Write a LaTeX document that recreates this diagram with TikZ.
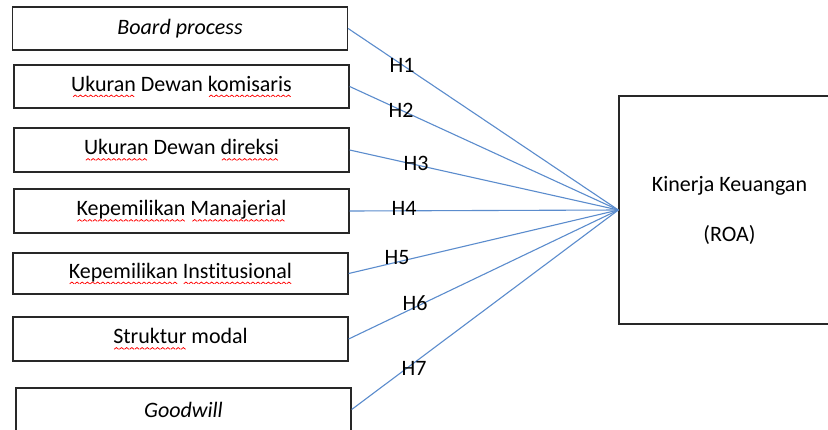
\documentclass[tikz,border=0pt]{standalone}
\usepackage{fontspec}
\setmainfont[Ligatures={NoCommon,NoRequired}]{Carlito}
\definecolor{edgeblue}{RGB}{91,140,205}
\definecolor{boxline}{RGB}{40,40,40}
\newsavebox\wavebox
\newsavebox\wordbox
\AtBeginDocument{\sbox\wavebox{\pgfpicture\pgfpathmoveto{\pgfpoint{0pt}{0pt}}\pgfpathlineto{\pgfpoint{2.2pt}{1.7pt}}\pgfpathlineto{\pgfpoint{4.4pt}{0pt}}\pgfsetlinewidth{0.75pt}\pgfsetstrokecolor{red}\pgfusepath{stroke}\endpgfpicture}}
\newcommand\spell[1]{\sbox\wordbox{#1}\rlap{\lower6pt\hbox to \wd\wordbox{\cleaders\copy\wavebox\hfil}}\usebox\wordbox}
\tikzset{
  varbox/.style={draw=boxline, line width=1.3pt, minimum width=335pt, minimum height=43pt, inner sep=0pt, font=\fontsize{22}{26}\selectfont},
  bigbox/.style={draw=boxline, line width=1.3pt, minimum width=221pt, minimum height=228pt, inner sep=0pt, align=center, font=\fontsize{22}{50}\selectfont},
  hline/.style={draw=edgeblue, line width=1.1pt},
  hyp/.style={inner sep=0pt, font=\fontsize{22}{26}\selectfont}
}
\begin{document}
\begin{tikzpicture}[x=1pt,y=-1pt]
\useasboundingbox (0,0) rectangle (828,429);
\clip (0,0) rectangle (828,429);
\fill[white] (0,0) rectangle (828,429);
\node[varbox] (b1) at (180,28.5) {\textit{Board process}};
\node[varbox] (b2) at (181.5,86.5) {\spell{Ukuran} Dewan \spell{komisaris}};
\node[varbox, minimum height=44pt] (b3) at (181.5,150) {\spell{Ukuran} Dewan \spell{direksi}};
\node[varbox, minimum height=44pt] (b4) at (181.5,211) {\spell{Kepemilikan} \spell{Manajerial}};
\node[varbox, minimum height=41pt] (b5) at (180.5,273.5) {\spell{Kepemilikan} \spell{Institusional}};
\node[varbox, minimum height=44pt] (b6) at (180.5,339) {\spell{Struktur} modal};
\node[varbox] (b7) at (183.5,409.5) {\textit{Goodwill}};
\node[bigbox] (roa) at (729.5,210) {Kinerja Keuangan\\(ROA)};
\foreach \i in {1,...,7} {\draw[hline] (b\i.east) -- (roa.west);}
\node[hyp] (h1) at (402,65) {H1};
\node[hyp] (h2) at (401,110) {H2};
\node[hyp] (h3) at (416,163) {H3};
\node[hyp] (h4) at (404,208) {H4};
\node[hyp] (h5) at (397,258) {H5};
\node[hyp] (h6) at (415,303) {H6};
\node[hyp] (h7) at (414,368) {H7};
\end{tikzpicture}
\end{document}
